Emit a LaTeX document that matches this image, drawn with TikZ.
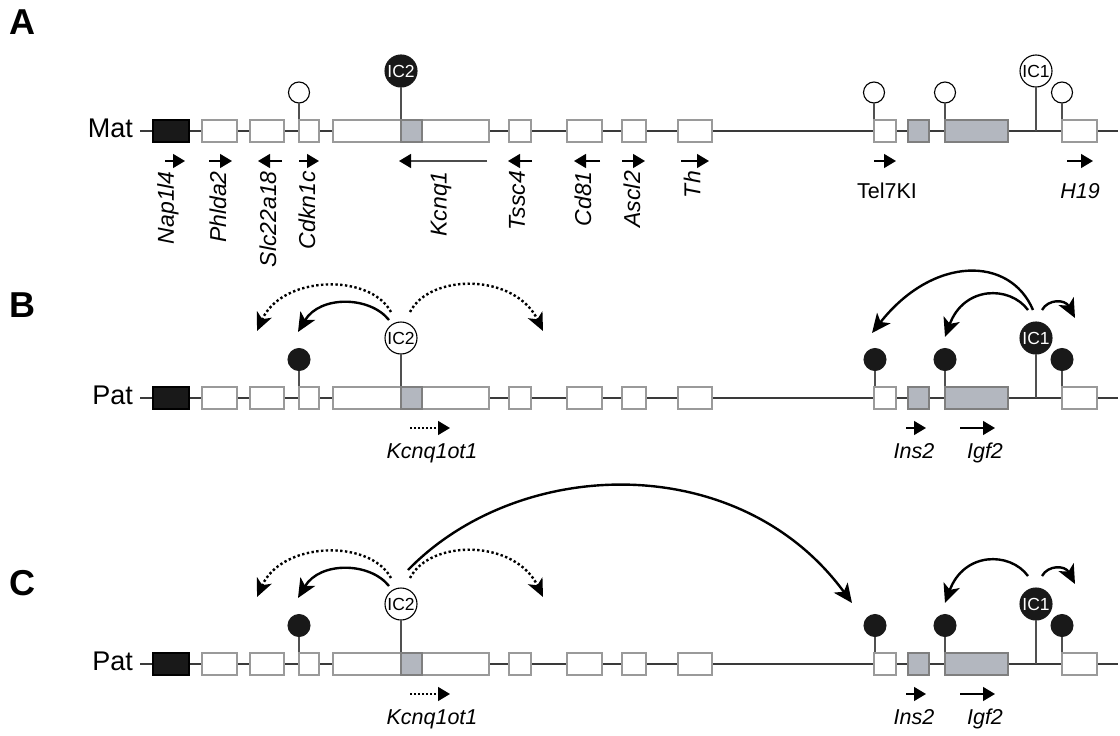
\documentclass[tikz,border=0pt]{standalone}
\usepackage{fontspec}
\setmainfont{Liberation Sans}
\usetikzlibrary{arrows.meta,calc}
\definecolor{linegray}{HTML}{3A3A3A}
\definecolor{boxedge}{HTML}{9A9A9A}
\definecolor{grayfill}{HTML}{B3B7BF}
\definecolor{grayedge}{HTML}{7F7F7F}
\definecolor{stemgray}{HTML}{505050}
\tikzset{
  chrline/.style={draw=linegray, line width=1.3pt},
  wbox/.style={draw=boxedge, fill=white, line width=1.2pt, minimum height=22pt, inner sep=0pt, outer sep=0pt},
  gbox/.style={wbox, draw=grayedge, fill=grayfill},
  bbox/.style={wbox, draw=black, fill=black!90},
  openlolly/.style={circle, draw=black, fill=white, line width=1.1pt, minimum size=21pt, inner sep=0pt, outer sep=0pt},
  filledlolly/.style={circle, draw=black!90, fill=black!90, line width=1pt, minimum size=22pt, inner sep=0pt, outer sep=0pt},
  icopen/.style={circle, draw=black, fill=white, line width=1.1pt, minimum size=32pt, inner sep=0pt, outer sep=0pt, font=\fontsize{17.5}{19}\selectfont},
  icfilled/.style={icopen, draw=black!90, fill=black!90, text=white},
  stemline/.style={draw=stemgray, line width=1.3pt},
  genearrow/.style={draw=black, line width=1.4pt, -{Triangle[length=12pt 0 0,width=14pt 0 0,color=black]}},
  rotlabel/.style={rotate=90, anchor=east, inner sep=0pt, font=\itshape\fontsize{23}{26}\selectfont},
  hlabel/.style={anchor=base, inner sep=0pt, font=\fontsize{21.5}{24}\selectfont},
  ihlabel/.style={hlabel, font=\itshape\fontsize{21.5}{24}\selectfont},
  chrlabel/.style={anchor=base east, inner sep=0pt, font=\fontsize{27}{30}\selectfont},
  panelletter/.style={inner sep=0pt, font=\bfseries\fontsize{36}{40}\selectfont},
  solidarc/.style={draw=black, line width=2.4pt, -{Stealth[length=19pt 0 0,width=17pt 0 0,inset=5pt]}},
  dotarc/.style={draw=black, line width=2.4pt, dash pattern=on 2.4pt off 2.4pt, -{Stealth[length=18pt 0 0,width=16pt 0 0,inset=5pt]}},
}
\newcommand\genelocus[1]{%
  \node[bbox, minimum width=36pt] (#1nap) at (171,0) {};
  \node[wbox, minimum width=35pt] (#1phl) at (219.5,0) {};
  \node[wbox, minimum width=34pt] (#1slc) at (267,0) {};
  \node[wbox, minimum width=20pt] (#1cdk) at (309,0) {};
  \node[wbox, minimum width=156pt] (#1kcn) at (411,0) {};
  \node[gbox, minimum width=21pt] (#1icbox) at (411.5,0) {};
  \node[wbox, minimum width=22pt] (#1tss) at (520,0) {};
  \node[wbox, minimum width=35pt] (#1cde) at (584.5,0) {};
  \node[wbox, minimum width=24pt] (#1asc) at (634,0) {};
  \node[wbox, minimum width=34pt] (#1th) at (695,0) {};
  \node[wbox, minimum width=22pt] (#1tel) at (885,0) {};
  \node[gbox, minimum width=21pt] (#1ins) at (918.5,0) {};
  \node[gbox, minimum width=63pt] (#1igf) at (976.5,0) {};
  \node[wbox, minimum width=35pt] (#1hnt) at (1079.5,0) {};
}
\newcommand\patlocus[1]{%
  \coordinate (#1O) at (0,0);
  \coordinate (#1Lend) at (140,0);
  \coordinate (#1Rend) at (1118,0);
  \draw[chrline] (#1Lend) -- (#1Rend);
  \node[chrlabel] (#1lab) at (133,6) {Pat};
  \node[filledlolly] (#1m1) at (299,-38.5) {};
  \node[filledlolly] (#1m2) at (875,-38.5) {};
  \node[filledlolly] (#1m3) at (945,-38.5) {};
  \node[filledlolly] (#1m4) at (1062,-38.5) {};
  \node[icopen] (#1ictwo) at (401,-60) {IC2};
  \node[icfilled] (#1icone) at (1036,-60) {IC1};
  \foreach \n in {m1,m2,m3,m4,ictwo,icone}
    \draw[stemline] (#1\n.south) -- (#1\n.south |- #1O);
  \genelocus{#1}
  \draw[genearrow, dash pattern=on 2pt off 2pt] (410,30) -- (450,30);
  \draw[genearrow] (906,30) -- (926,30);
  \draw[genearrow] (960,30) -- (995,30);
  \node[ihlabel] (#1tk) at (432,60) {Kcnq1ot1};
  \node[ihlabel] (#1ti) at (914,60) {Ins2};
  \node[ihlabel] (#1tg) at (985,60) {Igf2};
  % arcs around IC2
  \coordinate (#1s1) at (389,-78); \coordinate (#1t1) at (298,-66);
  \coordinate (#1s2) at (391,-86); \coordinate (#1t2) at (257,-67);
  \coordinate (#1s3) at (410,-86); \coordinate (#1t3) at (543,-67);
  \draw[solidarc] (#1s1) .. controls (370,-102) and (320,-103) .. (#1t1);
  \draw[dotarc] (#1s2) .. controls (370,-125) and (282,-123) .. (#1t2);
  \draw[dotarc] (#1s3) .. controls (430,-125) and (515,-125) .. (#1t3);
  % arcs around IC1
  \coordinate (#1s5) at (1028,-88); \coordinate (#1t5) at (945,-61);
  \coordinate (#1s6) at (1042,-88); \coordinate (#1t6) at (1075,-80);
  \draw[solidarc] (#1s5) .. controls (1010,-112.5) and (964,-112.5) .. (#1t5);
  \draw[solidarc] (#1s6) .. controls (1048,-99) and (1065,-99) .. (#1t6);
}
\begin{document}
\begin{tikzpicture}[x=1pt,y=-1pt]
\useasboundingbox (0,0) rectangle (1120,736);
\node[panelletter] (labA) at (22,22) {A};
\node[panelletter] (labB) at (22,305) {B};
\node[panelletter] (labC) at (22,583) {C};
% ---------- Panel A ----------
\begin{scope}[shift={(0,131)}]
  \coordinate (aO) at (0,0);
  \coordinate (aLend) at (140,0);
  \coordinate (aRend) at (1118,0);
  \draw[chrline] (aLend) -- (aRend);
  \node[chrlabel] (alab) at (133,6) {Mat};
  \node[openlolly] (am1) at (299,-38.5) {};
  \node[openlolly] (am2) at (874,-38.5) {};
  \node[openlolly] (am3) at (945,-38.5) {};
  \node[openlolly] (am4) at (1062,-38.5) {};
  \node[icfilled] (aictwo) at (401,-60) {IC2};
  \node[icopen] (aicone) at (1036,-60) {IC1};
  \foreach \n in {m1,m2,m3,m4,ictwo,icone}
    \draw[stemline] (a\n.south) -- (a\n.south |- aO);
  \genelocus{a}
  \draw[genearrow] (165,30) -- (185,30);
  \draw[genearrow] (209,30) -- (232,30);
  \draw[genearrow] (282,30) -- (258,30);
  \draw[genearrow] (299,30) -- (319,30);
  \draw[genearrow, draw=black!70] (487,30) -- (399,30);
  \draw[genearrow] (532,30) -- (508,30);
  \draw[genearrow] (600,30) -- (574,30);
  \draw[genearrow] (622,30) -- (645,30);
  \draw[genearrow] (681,30) -- (709,30);
  \draw[genearrow] (874,30) -- (896,30);
  \draw[genearrow] (1067,30) -- (1093,30);
  \node[rotlabel] (tnap) at (168,40) {Nap1l4};
  \node[rotlabel] (tphl) at (218,40) {Phlda2};
  \node[rotlabel] (tslc) at (268,40) {Slc22a18};
  \node[rotlabel] (tcdk) at (307,40) {Cdkn1c};
  \node[rotlabel] (tkcn) at (441,40) {Kcnq1};
  \node[rotlabel] (ttss) at (517,40) {Tssc4};
  \node[rotlabel] (tcde) at (583,40) {Cd81};
  \node[rotlabel] (tasc) at (632,40) {Ascl2};
  \node[rotlabel] (tth) at (692,40) {Th};
  \node[hlabel] (ttel) at (887,67) {Tel7KI};
  \node[ihlabel] (thnt) at (1080,67) {H19};
\end{scope}
% ---------- Panel B ----------
\begin{scope}[shift={(0,398)}]
  \patlocus{b}
  \coordinate (bs4) at (1033,-88); \coordinate (bt4) at (872,-65);
  \draw[solidarc] (bs4) .. controls (1010,-142.5) and (933,-142.5) .. (bt4);
\end{scope}
% ---------- Panel C ----------
\begin{scope}[shift={(0,664)}]
  \patlocus{c}
  \coordinate (cs4) at (408,-94); \coordinate (ct4) at (852,-61);
  \draw[solidarc] (cs4) .. controls (520,-209) and (740,-214) .. (ct4);
\end{scope}
\end{tikzpicture}
\end{document}
